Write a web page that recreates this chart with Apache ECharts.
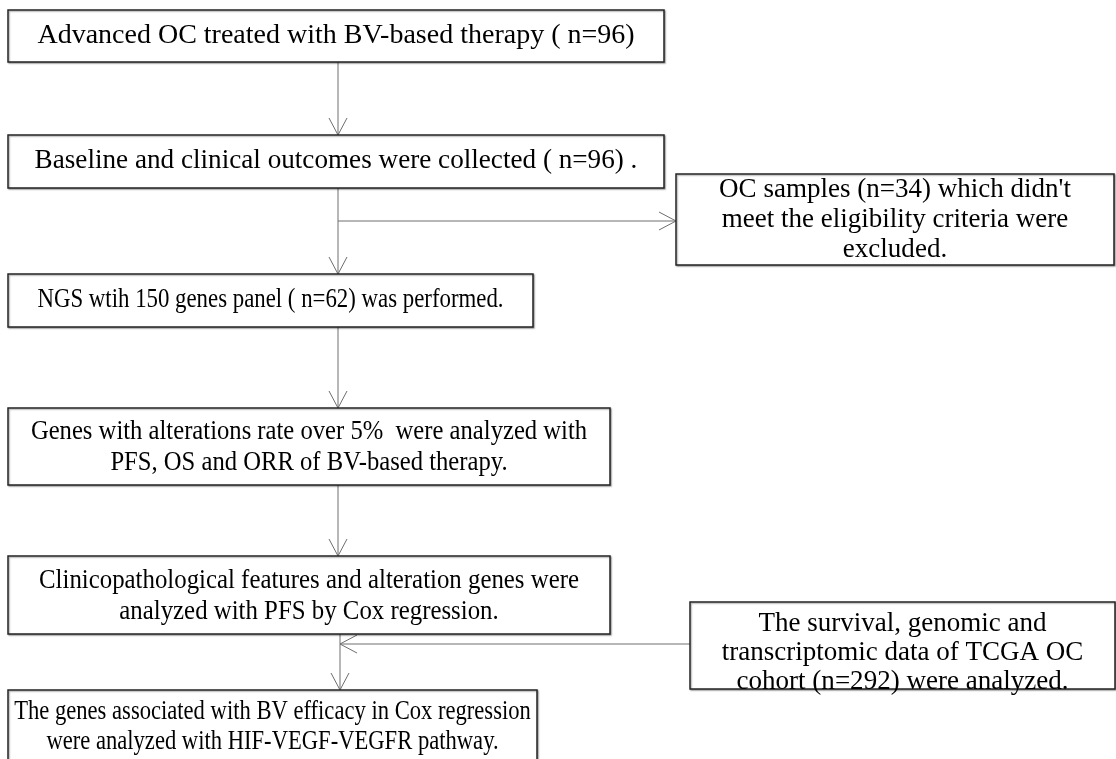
<!DOCTYPE html>
<html>
<head>
<meta charset="utf-8">
<script src="https://cdn.jsdelivr.net/npm/echarts@6/dist/echarts.min.js"></script>
<style>
html,body{margin:0;padding:0;background:#fff;}
#chart{width:1116px;height:759px;}
</style>
</head>
<body>
<div id="chart"></div>
<script>
// ---- content (flowchart steps) ----
const steps = [
  "Advanced OC treated with BV-based therapy ( n=96)",
  "Baseline and clinical outcomes were collected ( n=96) .",
  "OC samples (n=34) which didn't\nmeet the eligibility criteria were\nexcluded.",
  "NGS wtih 150 genes panel ( n=62) was performed.",
  "Genes with alterations rate over 5%  were analyzed with\nPFS, OS and ORR of BV-based therapy.",
  "Clinicopathological features and alteration genes were\nanalyzed with PFS by Cox regression.",
  "The survival, genomic and\ntranscriptomic data of TCGA OC\ncohort (n=292) were analyzed.",
  "The genes associated with BV efficacy in Cox regression\nwere analyzed with HIF-VEGF-VEGFR pathway."
];
// links between steps: [from step, to step]
const links = [[0,1],[1,3],[1,2],[3,4],[4,5],[5,7],[6,7]];

// ---- layout (positions in a 1116 x 759 space) and text styling ----
const boxLayout = [
  {x0:8,   y0:10,  x1:664,  y1:62,  ty:36},
  {x0:8,   y0:135, x1:664,  y1:188, ty:161},
  {x0:676, y0:174, x1:1114, y1:265, ty:220},
  {x0:8,   y0:274, x1:533,  y1:327, ty:300},
  {x0:8,   y0:408, x1:610,  y1:485, ty:447},
  {x0:8,   y0:556, x1:610,  y1:634, ty:596},
  {x0:690, y0:602, x1:1115, y1:689, ty:653},
  {x0:8,   y0:690, x1:537,  y1:768, ty:727}
];
const textScaleX = [1.0, 0.97, 0.965, 0.815, 0.88, 0.887, 0.965, 0.807];
const lineHeights = [30, 30, 30, 30, 31, 31, 29, 30];
const linkLayout = [
  {from:[338,62],  to:[338,135]},
  {from:[338,188], to:[338,274]},
  {from:[338,221], to:[676,221]},
  {from:[338,327], to:[338,408]},
  {from:[338,485], to:[338,556]},
  {from:[340,634], to:[340,690]},
  {from:[690,644], to:[340,644]}
];

const chart = echarts.init(document.getElementById('chart'), null, {renderer:'canvas'});

function renderBox(params, api){
  const i = api.value(0);
  const b = boxLayout[i];
  const p0 = api.coord([b.x0, b.y0]);
  const p1 = api.coord([b.x1, b.y1]);
  const pt = api.coord([(b.x0+b.x1)/2, b.ty]);
  return {
    type:'group',
    children:[
      {type:'rect', shape:{x:p0[0], y:p0[1], width:p1[0]-p0[0], height:p1[1]-p0[1]},
       style:{fill:'#fff', stroke:'#262626', lineWidth:1.5,
              shadowColor:'rgba(0,0,0,0.35)', shadowBlur:1.5, shadowOffsetX:1, shadowOffsetY:1}},
      {type:'text', originX:pt[0], originY:pt[1], scaleX:textScaleX[i],
       style:{text:steps[i], x:pt[0], y:pt[1], align:'center', verticalAlign:'middle',
        fontFamily:'"Liberation Serif", "Times New Roman", serif', fontSize:28,
        lineHeight:lineHeights[i], fill:'#000'}}
    ]
  };
}

function renderLink(params, api){
  const i = api.value(0);
  const L = linkLayout[i];
  const a = api.coord(L.from);
  const b = api.coord(L.to);
  const dx = b[0]-a[0], dy = b[1]-a[1];
  const len = Math.sqrt(dx*dx+dy*dy);
  const ux = dx/len, uy = dy/len;
  const nx = -uy, ny = ux;
  const arm = 17, half = 9;
  const c1 = [b[0]-ux*arm+nx*half, b[1]-uy*arm+ny*half];
  const c2 = [b[0]-ux*arm-nx*half, b[1]-uy*arm-ny*half];
  return {
    type:'group',
    children:[
      {type:'line', shape:{x1:a[0], y1:a[1], x2:b[0], y2:b[1]},
       style:{stroke:'#6e6e6e', lineWidth:1}},
      {type:'polyline', shape:{points:[c1, b, c2]},
       style:{stroke:'#6e6e6e', lineWidth:1, fill:null}}
    ]
  };
}

chart.setOption({
  animation:false,
  backgroundColor:'#fff',
  grid:{left:0, right:0, top:0, bottom:0},
  xAxis:{type:'value', min:0, max:1116, show:false},
  yAxis:{type:'value', min:0, max:759, inverse:true, show:false},
  series:[
    {type:'custom', name:'links', renderItem:renderLink,
     data: links.map((l, i) => [i, l[0], l[1]]), z:1, silent:true},
    {type:'custom', name:'steps', renderItem:renderBox,
     data: steps.map((s, i) => [i]), z:2, silent:true}
  ]
});
</script>
</body>
</html>
